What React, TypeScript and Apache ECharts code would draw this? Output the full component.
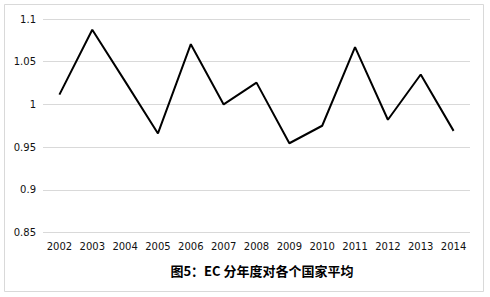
import React, { useEffect, useRef } from "react";
import * as echarts from "echarts";

const years = ["2002","2003","2004","2005","2006","2007","2008","2009","2010","2011","2012","2013","2014"];
const values = [1.0115, 1.0875, 1.027, 0.966, 1.0705, 1.0, 1.0255, 0.9545, 0.975, 1.067, 0.982, 1.035, 0.969];
const yMin = 0.85;
const yMax = 1.1;
const yStep = 0.05;
const title = "图5：EC 分年度对各个国家平均";

export default function App() {
  const ref = useRef<HTMLDivElement>(null);
  useEffect(() => {
    if (!ref.current) return;
    const chart = echarts.init(ref.current, null, { renderer: "svg" });
    chart.setOption({
      animation: false,
      backgroundColor: "#ffffff",
      grid: { left: 43, right: 20, top: 19, bottom: 64.5, containLabel: false },
      title: {
        text: title,
        left: 257,
        textAlign: "center",
        top: 259,
        textStyle: { fontSize: 13, fontWeight: "bold", color: "#000", fontFamily: "Noto Sans CJK SC" },
      },
      graphic: [
        {
          type: "rect",
          shape: { x: 4.5, y: 4.5, width: 479, height: 287 },
          style: { fill: "none", stroke: "#d9d9d9", lineWidth: 1 },
          silent: true,
        },
      ],
      xAxis: {
        type: "category",
        data: years,
        boundaryGap: true,
        axisLine: { show: false },
        axisTick: { show: false },
        axisLabel: { color: "#111", fontSize: 10, margin: 9, fontFamily: "DejaVu Sans", interval: 0 },
      },
      yAxis: {
        type: "value",
        min: yMin,
        max: yMax,
        interval: yStep,
        axisLine: { show: false },
        axisTick: { show: false },
        splitLine: { lineStyle: { color: "#d9d9d9", width: 1 } },
        axisLabel: {
          color: "#111",
          fontSize: 10,
          margin: 7,
          fontFamily: "DejaVu Sans",
          formatter: (v: number) => String(parseFloat(v.toFixed(2))),
        },
      },
      series: [
        {
          type: "line",
          data: values,
          showSymbol: false,
          symbol: "none",
          lineStyle: { color: "#000", width: 2 },
        },
      ],
    });
    return () => chart.dispose();
  }, []);
  return <div ref={ref} style={{ position: "absolute", left: 0, top: 0, width: 490, height: 297 }} />;
}
